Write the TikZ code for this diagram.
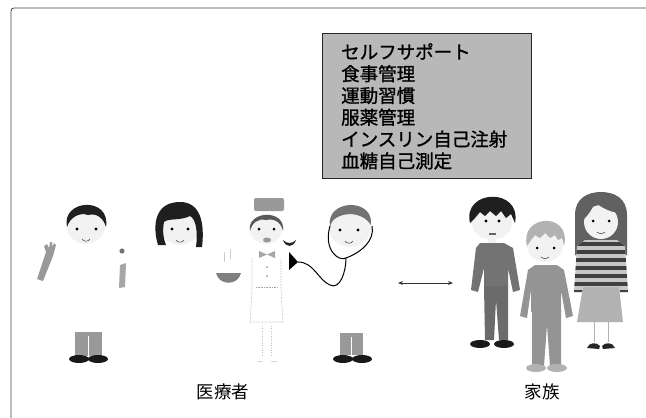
\documentclass[tikz,border=0pt]{standalone}
\usepackage{fontspec}
\usetikzlibrary{arrows.meta}
\newfontfamily\jpfont{Noto Sans CJK JP}
\newfontfamily\jpheavy[FakeBold=1.2]{Noto Sans CJK JP}
\begin{document}
\begin{tikzpicture}[x=1pt,y=-1pt,
  skin/.style={fill=black!5},
  hairblack/.style={fill=black!88},
  hairmid/.style={fill=black!55},
  hairlight/.style={fill=black!30},
  eye/.style={fill=black},
  shoe/.style={fill=black!90},
  pants/.style={fill=black!40},
  mouthline/.style={draw=black!70, line width=0.6pt},
  faint/.style={draw=black!35, densely dotted, line width=0.6pt},
  label/.style={font=\jpfont\fontsize{17.5}{20}\selectfont, inner sep=0pt}]
\useasboundingbox (0,0) rectangle (646,418);

% outer frame (only its top and left edges fall inside the page)
\draw[black!75, line width=0.8pt, rounded corners=3] (11,418) -- (11,8) -- (646,8);

% ---------- self-support box ----------
\node[draw=black!85, fill=black!28, line width=0.8pt, anchor=north west,
      minimum width=209pt, minimum height=145pt, inner sep=0pt] (supportbox) at (322,33) {};
\node[anchor=north west, align=left, inner sep=0pt,
      font=\jpheavy\fontsize{18.5}{21.8}\selectfont] (supportlist) at (341,43)
  {セルフサポート\\食事管理\\運動習慣\\服薬管理\\インスリン自己注射\\血糖自己測定};

% ---------- doctor, waving ----------
\fill[skin] (86,226) ellipse [x radius=19, y radius=18];
\fill[hairblack] (67,227) .. controls (61,199) and (111,196) .. (106,227)
  .. controls (103,217) and (96,213) .. (88,215) .. controls (80,212) and (70,217) .. (67,227) -- cycle;
\fill[eye] (77,229) circle (1.7) (96,229) circle (1.7);
\draw[mouthline] (82,239) .. controls (84,242) and (88,242) .. (90,239);
\fill[black!40] (37,279) -- (46,252) -- (44,246) -- (47,244) -- (49,248) -- (50,242) -- (52,242)
  -- (52,247) -- (54,243) -- (56,245) -- (53,256) -- (43,281) -- cycle;
\fill[black!55] (122,251) circle (2.6);
\fill[black!35] (120,265) -- (126,263) -- (125,287) -- (119,288) -- cycle;
\fill[pants] (75,332) rectangle (102,356);
\draw[white, line width=0.8pt] (88.5,336) -- (88.5,356);
\fill[shoe] (79,359) ellipse [x radius=10, y radius=4] (98,359) ellipse [x radius=10, y radius=4];

% ---------- female doctor ----------
\fill[skin] (180,226) ellipse [x radius=20, y radius=19];
\fill[hairblack] (158,245) .. controls (152,225) and (155,202) .. (180,202)
  .. controls (200,202) and (205,222) .. (202,247) -- (196,247)
  .. controls (198,232) and (196,219) .. (190,216) .. controls (180,221) and (168,218) .. (164,222)
  .. controls (162,232) and (164,240) .. (166,245) -- cycle;
\fill[eye] (172,229) circle (1.7) (188,229) circle (1.7);
\draw[mouthline] (176,240) .. controls (178,243) and (182,243) .. (184,240);

% ---------- nurse ----------
\fill[skin] (266,229) ellipse [x radius=16, y radius=15];
\fill[black!65] (250,231) .. controls (246,211) and (286,208) .. (283,231)
  .. controls (281,222) and (274,218) .. (266,220) .. controls (258,218) and (252,223) .. (250,231) -- cycle;
\fill[black!40, rounded corners=2] (254,198) rectangle (284,211);
\fill[eye] (259,229) circle (1.5) (274,229) circle (1.5);
\fill[black!40] (267,240) ellipse [x radius=4, y radius=2.5];
\fill[black!35] (259,251) -- (267,254.5) -- (259,258) -- cycle (275,251) -- (267,254.5) -- (275,258) -- cycle;
\draw[faint] (252,258) -- (252,290) -- (250,322) -- (283,322) -- (281,290) -- (281,258);
\draw[faint] (256,287) -- (278,287);
\fill[black!40] (267,267) circle (1) (267,276) circle (1);
\draw[draw=black!25, dotted] (262,326) -- (262,356) (271,326) -- (271,356);
\draw[black!30] (257,362) -- (263,361) (271,361) -- (277,362);
\fill[black!50] (216,273) .. controls (219,286) and (238,286) .. (241,273) -- cycle;
\draw[black!20] (224,252) -- (224,262) (230,249) -- (230,259);
\fill[black!85] (283,240) .. controls (286,248) and (293,248) .. (296,240)
  .. controls (292,244) and (287,244) .. (283,240) -- cycle;

% ---------- doctor with stethoscope ----------
\fill[skin] (350,228) ellipse [x radius=21, y radius=19];
\fill[hairmid] (330,227) .. controls (325,199) and (374,197) .. (371,225)
  .. controls (364,214) and (350,212) .. (340,216) .. controls (334,218) and (331,222) .. (330,227) -- cycle;
\fill[eye] (340,230) circle (1.7) (358,230) circle (1.7);
\draw[mouthline] (345,241) .. controls (347,244) and (351,244) .. (353,241);
\draw[black, line width=1pt] (330,226) .. controls (323,250) and (339,262) .. (346,258)
  .. controls (362,252) and (375,240) .. (372,226);
\coordinate (chestpiece) at (298,262);
\draw[black, line width=1pt] (346,258) .. controls (346,272) and (340,290) .. (330,285)
  .. controls (318,280) and (314,262) .. (chestpiece);
\fill[black] (chestpiece) -- (289,252) -- (289,270) -- cycle;
\fill[pants] (340,333) rectangle (363,355);
\draw[white, line width=0.8pt] (351.5,337) -- (351.5,355);
\fill[shoe] (343,359) ellipse [x radius=10, y radius=4] (362,359) ellipse [x radius=10, y radius=4];

% ---------- two-way link ----------
\coordinate (linkleft) at (398,283);
\coordinate (linkright) at (453,283);
\draw[black!80, line width=0.9pt, {Stealth[length=5pt,width=4pt]}-{Stealth[length=5pt,width=4pt]}] (linkleft) -- (linkright);

% ---------- father ----------
\fill[skin] (492,222) ellipse [x radius=20, y radius=18];
\fill[hairblack] (470,223) .. controls (462,189) and (522,187) .. (515,223) -- (511,214) -- (506,218)
  -- (501,211) -- (496,216) -- (490,211) -- (485,216) -- (480,212) -- (475,218) -- cycle;
\fill[eye] (486,221) circle (1.6) (499,221) circle (1.6);
\fill[black!60] (489,233) rectangle (496,235);
\fill[skin] (488,238) rectangle (496,244);
\fill[black!55] (480,243) -- (504,243) -- (513,248) -- (520,290) -- (513,292) -- (508,268)
  -- (508,287) -- (484,287) -- (484,268) -- (478,292) -- (471,290) -- (476,248) -- cycle;
\fill[black!58] (484,286) -- (508,286) -- (508,340) -- (499,340) -- (496,300) -- (494,340) -- (485,340) -- cycle;
\fill[shoe] (480,344) ellipse [x radius=10, y radius=4] (504,344) ellipse [x radius=10, y radius=4];

% ---------- boy ----------
\fill[skin] (545,246) ellipse [x radius=18, y radius=16];
\fill[hairlight] (527,246) .. controls (519,214) and (572,211) .. (564,246) -- (562,238) -- (558,240)
  -- (555,235) -- (550,238) -- (545,233) -- (540,238) -- (535,235) -- (531,240) -- cycle;
\fill[eye] (537,248) circle (1.5) (554,248) circle (1.5);
\draw[mouthline] (541,257) .. controls (543,259) and (547,259) .. (549,257);
\fill[black!42] (535,265) -- (557,265) -- (564,270) -- (573,316) -- (566,318) -- (561,290)
  -- (561,312) -- (531,312) -- (531,290) -- (527,318) -- (520,316) -- (528,270) -- cycle;
\fill[black!42] (532,311) -- (561,311) -- (561,366) -- (550,366) -- (547,325) -- (544,366) -- (532,366) -- cycle;
\fill[black!30] (536,368) ellipse [x radius=10, y radius=4] (557,368) ellipse [x radius=10, y radius=4];

% ---------- mother ----------
\fill[black!62] (575,255) -- (575,215) .. controls (575,198) and (588,192) .. (601,192)
  .. controls (614,192) and (627,198) .. (627,215) -- (627,255) -- cycle;
\fill[skin] (601,222) ellipse [x radius=17, y radius=17];
\fill[black!62] (584,219) .. controls (584,199) and (618,197) .. (619,213)
  .. controls (610,212) and (600,207) .. (595,202) .. controls (592,210) and (588,215) .. (584,219) -- cycle;
\fill[eye] (593,221) circle (1.5) (609,221) circle (1.5);
\draw[mouthline] (597,232) .. controls (599,234) and (603,234) .. (605,232);
\begin{scope}
  \path[clip] (585,240) -- (617,240) -- (625,246) -- (628,292) -- (620,292) -- (619,288)
    -- (583,288) -- (582,292) -- (574,292) -- (577,246) -- cycle;
  \fill[black!22] (570,238) rectangle (632,294);
  \foreach \s in {242,250,...,290} {\fill[black!75] (570,\s) rectangle (632,\s+4);}
\end{scope}
\fill[black!30] (583,287) -- (619,287) -- (623,322) -- (577,322) -- cycle;
\draw[black!30, line width=0.8pt] (594,322) -- (594,342) (608,322) -- (608,342);
\fill[black!85] (587,348) .. controls (589,342) and (597,342) .. (600,346) -- (599,349) -- cycle;
\fill[black!85] (615,348) .. controls (613,342) and (605,342) .. (602,346) -- (603,349) -- cycle;

% ---------- group labels ----------
\node[label] (medlabel) at (223,392) {医療者};
\node[label] (famlabel) at (542,392) {家族};
\end{tikzpicture}
\end{document}
